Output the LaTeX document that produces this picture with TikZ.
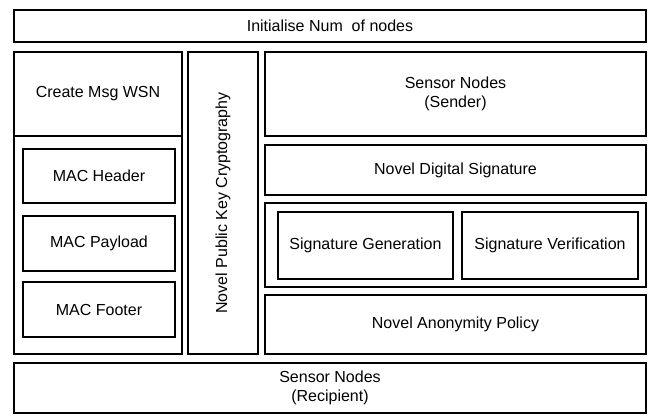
\documentclass[tikz,border=0pt]{standalone}
\usepackage{fontspec}
\setmainfont{Liberation Sans}
\usepackage{tikz}

\begin{document}
\begin{tikzpicture}[x=1pt,y=-1pt,
  blk/.style={rectangle,draw,line width=2.8pt,inner sep=0pt,font=\fontsize{16}{19.5}\selectfont}]
\useasboundingbox (0,0) rectangle (649,416);
% description and naming of the blocks
\node (init) at (330,26) [blk,minimum width=632pt,minimum height=32pt] {Initialise Num\ \ of nodes};
\node (msg) at (98,94) [blk,minimum width=168pt,minimum height=84pt] {Create Msg WSN};
\node (mac) at (98,245) [blk,minimum width=168pt,minimum height=218pt] {};
\node (hdr) at (99,176) [blk,minimum width=152pt,minimum height=54pt] {MAC Header};
\node (pay) at (99,243.5) [blk,minimum width=152pt,minimum height=55pt] {MAC Payload};
\node (ftr) at (99,309.5) [blk,minimum width=152pt,minimum height=55pt] {MAC Footer};
\node (pkc) at (223,203) [blk,minimum width=70pt,minimum height=302pt] {};
\node [font=\fontsize{16}{19.5}\selectfont,rotate=90] at (pkc) {Novel Public Key Cryptography};
\node (snd) at (455.5,94) [blk,minimum width=381pt,minimum height=84pt] {\begin{tabular}{c}Sensor Nodes\\(Sender)\end{tabular}};
\node (nds) at (455.5,170) [blk,minimum width=381pt,minimum height=50pt] {Novel Digital Signature};
\node (sig) at (455.5,245) [blk,minimum width=381pt,minimum height=84pt] {};
\node (gen) at (365.5,245.5) [blk,minimum width=175pt,minimum height=67pt] {Signature Generation};
\node (ver) at (550,245.5) [blk,minimum width=176pt,minimum height=67pt] {Signature Verification};
\node (nap) at (455.5,324.5) [blk,minimum width=381pt,minimum height=59pt] {Novel Anonymity Policy};
\node (rcp) at (330,388) [blk,minimum width=632pt,minimum height=50pt] {\begin{tabular}{c}Sensor Nodes\\(Recipient)\end{tabular}};
\end{tikzpicture}
\end{document}
